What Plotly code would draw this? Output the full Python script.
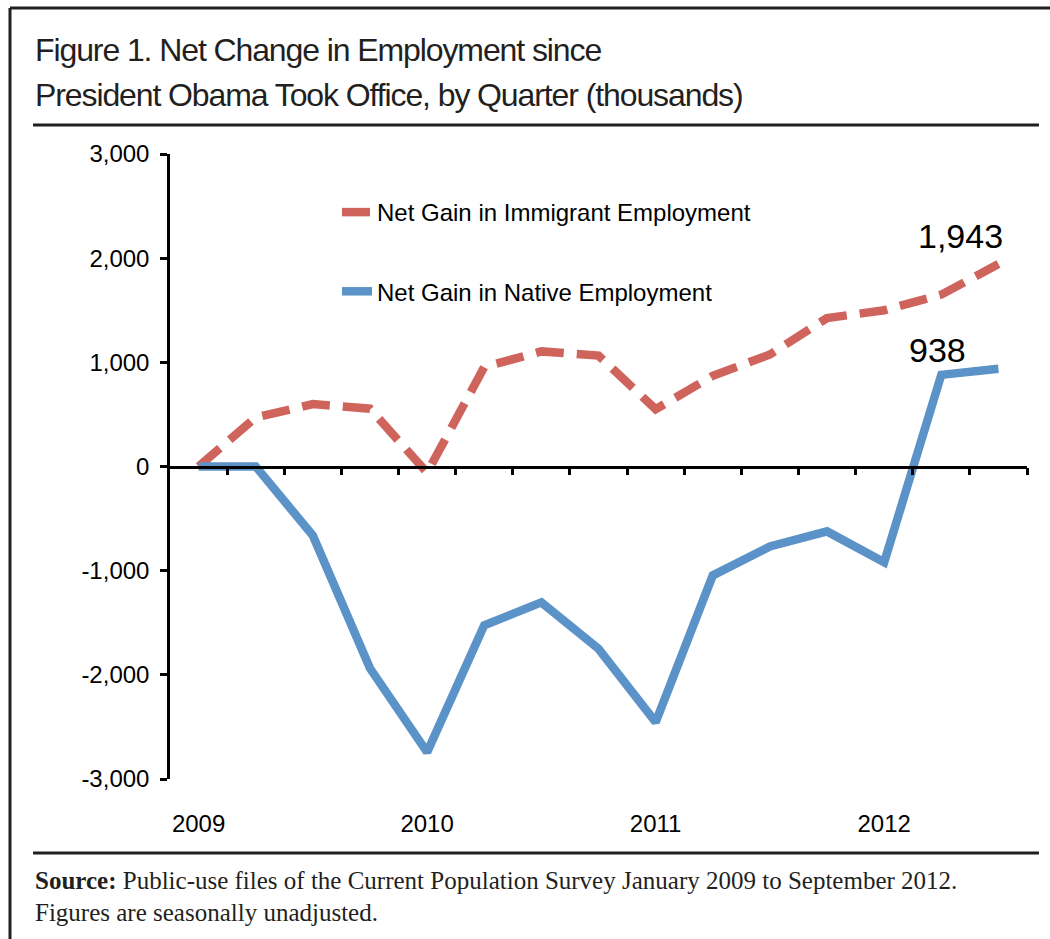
import plotly.graph_objects as go

# ---------------- data ----------------
quarters = ["2009 Q1", "2009 Q2", "2009 Q3", "2009 Q4",
            "2010 Q1", "2010 Q2", "2010 Q3", "2010 Q4",
            "2011 Q1", "2011 Q2", "2011 Q3", "2011 Q4",
            "2012 Q1", "2012 Q2", "2012 Q3"]
immigrant = [0, 470, 600, 555, -60, 955, 1105, 1065, 550, 870, 1075, 1425, 1500, 1650, 1943]
native = [0, 0, -662, -1937, -2742, -1525, -1304, -1750, -2455, -1045, -767, -623, -920, 880, 938]
year_labels = ["2009", "2010", "2011", "2012"]
y_ticks = [-3000, -2000, -1000, 0, 1000, 2000, 3000]

x = list(range(len(quarters)))
year_pos = [i for i, q in enumerate(quarters) if q.endswith("Q1")]
year_text = year_labels[:len(year_pos)]

# ---------------- layout helpers (pixel -> paper) ----------------
W, H = 1050, 939
L, R, T, B = 170, 23, 154, 160
PW, PH = W - L - R, H - T - B
def px(v):
    return (v - L) / PW
def py(v):
    return (H - B - v) / PH

SANS = "Liberation Sans, Arial, sans-serif"
SERIF = "Liberation Serif, Times New Roman, serif"
RED = "#CF645C"
BLUE = "#5B93C8"
INK = "#231F20"

fig = go.Figure()
fig.add_trace(go.Scatter(
    x=x, y=immigrant, mode="lines", name="Net Gain in Immigrant Employment",
    line=dict(color=RED, width=8.5, dash="28px,13px"), legendgroup="a"))
fig.add_trace(go.Scatter(
    x=x, y=native, mode="lines", name="Net Gain in Native Employment",
    line=dict(color=BLUE, width=8.5), legendgroup="b"))
# invisible carrier so the year-label axis is drawn
fig.add_trace(go.Scatter(
    x=x, y=native, xaxis="x2", mode="none", showlegend=False, hoverinfo="skip"))

TITLE_STYLE = "letter-spacing:-1.1px"
annotations = [
    dict(text=f"<span style='{TITLE_STYLE}'>Figure 1. Net Change in Employment since</span>",
         x=px(33), y=py(50), xanchor="left", yanchor="middle",
         font=dict(family=SANS, size=32, color=INK)),
    dict(text=f"<span style='{TITLE_STYLE}'>President Obama Took Office, by Quarter (thousands)</span>",
         x=px(33), y=py(95), xanchor="left", yanchor="middle",
         font=dict(family=SANS, size=32, color=INK)),
    dict(text="<b>Source:</b> Public-use files of the Current Population Survey January 2009 to September 2012.",
         x=px(33), y=py(880), xanchor="left", yanchor="middle",
         font=dict(family=SERIF, size=25, color=INK)),
    dict(text="Figures are seasonally unadjusted.", x=px(33), y=py(912),
         xanchor="left", yanchor="middle", font=dict(family=SERIF, size=25, color=INK)),
    dict(text=f"{immigrant[-1]:,}", x=x[-1], y=immigrant[-1], xref="x", yref="y",
         xanchor="center", yanchor="bottom", xshift=-38, yshift=7,
         font=dict(family=SANS, size=34, color="black")),
    dict(text=f"{native[-1]:,}", x=x[-1], y=native[-1], xref="x", yref="y",
         xanchor="center", yanchor="bottom", xshift=-61, yshift=-2,
         font=dict(family=SANS, size=34, color="black")),
]
for a in annotations:
    a.setdefault("xref", "paper")
    a.setdefault("yref", "paper")
    a["showarrow"] = False

shapes = [
    dict(type="line", x0=px(10), x1=px(1050), y0=py(8), y1=py(8)),
    dict(type="line", x0=px(10), x1=px(10), y0=py(8), y1=py(939)),
    dict(type="line", x0=px(33), x1=px(1039), y0=py(125), y1=py(125)),
    dict(type="line", x0=px(33), x1=px(1039), y0=py(853), y1=py(853)),
]
for s in shapes:
    s.update(xref="paper", yref="paper", line=dict(color=INK, width=3))

fig.update_layout(
    width=W, height=H,
    margin=dict(l=L, r=R, t=T, b=B),
    paper_bgcolor="white", plot_bgcolor="white",
    showlegend=True,
    legend=dict(x=px(337), y=py(190), xanchor="left", yanchor="top",
                font=dict(family=SANS, size=24, color="black"),
                bgcolor="rgba(0,0,0,0)", tracegroupgap=45, traceorder="grouped",
                itemwidth=30),
    xaxis=dict(range=[-0.5, len(quarters) - 0.5], anchor="free", position=0.5,
               showline=True, linecolor="black", linewidth=2.5,
               ticks="outside", ticklen=7, tickwidth=2.5, tickcolor="black",
               tickvals=[i + 0.5 for i in x], showticklabels=False,
               showgrid=False, zeroline=False),
    xaxis2=dict(range=[-0.5, len(quarters) - 0.5], overlaying="x", anchor="y", side="bottom",
                showline=False, ticks="", tickvals=year_pos, ticktext=year_text,
                tickfont=dict(family=SANS, size=24, color="black"),
                ticklabelstandoff=28, showgrid=False, zeroline=False),
    yaxis=dict(range=[y_ticks[0], y_ticks[-1]], tickvals=y_ticks,
               ticktext=[f"{v:,}" for v in y_ticks],
               showline=True, linecolor="black", linewidth=2.5,
               ticks="outside", ticklen=7, tickwidth=2.5, tickcolor="black",
               tickfont=dict(family=SANS, size=24, color="black"),
               ticklabelstandoff=6, showgrid=False, zeroline=False),
    annotations=annotations, shapes=shapes,
)

fig.write_html("out.html")
